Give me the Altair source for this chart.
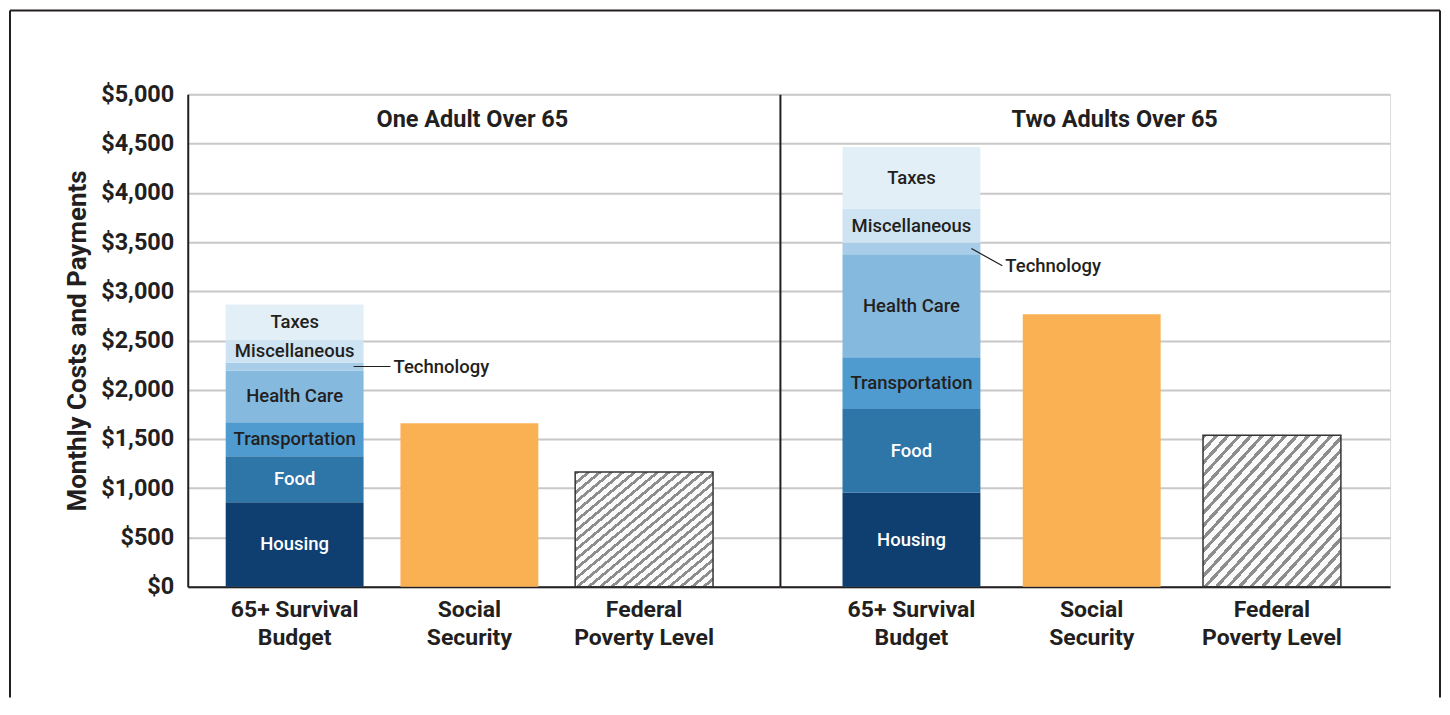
import altair as alt
import pandas as pd

# ---------------- data ----------------
groups = ["One Adult Over 65", "Two Adults Over 65"]
bars = ["65+ Survival Budget", "Social Security", "Federal Poverty Level"]
bar_label_lines = [["65+ Survival", "Budget"], ["Social", "Security"], ["Federal", "Poverty Level"]]
components = ["Housing", "Food", "Transportation", "Health Care", "Technology", "Miscellaneous", "Taxes"]
budget_one_adult = [858, 467, 344, 526, 82, 233, 355]
budget_two_adults = [953, 851, 527, 1044, 118, 345, 628]
social_security = [1659, 2767]
federal_poverty_level = [1165, 1537]
y_ticks = [0, 500, 1000, 1500, 2000, 2500, 3000, 3500, 4000, 4500, 5000]
budgets = [budget_one_adult, budget_two_adults]

# ---------------- style ----------------
FONT = "Roboto"
DARK = "#231f20"
component_colors = ["#0f3f70", "#2e75a8", "#4f9bd0", "#85b9de", "#a7cde8", "#cfe4f2", "#e3eff6"]
white_text_components = ["Housing", "Food"]
ORANGE = "#f9b154"
GRID = "#c8c8c8"
SEG_FONT = 18.5

# diagonal hatch emulated with a hard-stop linear gradient
K = 24
stops = []
for i in range(K):
    a = i / K
    b = (i + 0.38) / K
    c = (i + 1) / K
    stops += [
        alt.GradientStop(offset=a, color="#8d8d8d"),
        alt.GradientStop(offset=b, color="#8d8d8d"),
        alt.GradientStop(offset=b, color="#fbfbfb"),
        alt.GradientStop(offset=c, color="#fbfbfb"),
    ]
hatch = alt.LinearGradient(gradient="linear", stops=stops, x1=0, y1=0, x2=1, y2=1)

label_expr = " : ".join(
    f"datum.label == '{b}' ? {lines!r}" for b, lines in zip(bars, bar_label_lines)
) + " : datum.label"

PANEL_H = 493
panel_specs = [
    dict(width=593, pin=0.211, pout=0.30, align=0.362, title_dx=3, tech_drop=0,
         lead_in=-10, lead_out=27, text_dx=30, show_y=True),
    dict(width=611, pin=0.235, pout=0.31, align=0.56, title_dx=23, tech_drop=175,
         lead_in=-9, lead_out=22, text_dx=25, show_y=False),
]


def make_panel(gi):
    spec = panel_specs[gi]
    vals = budgets[gi]
    xscale = alt.Scale(domain=bars, paddingInner=spec["pin"], paddingOuter=spec["pout"], align=spec["align"])
    yscale = alt.Scale(domain=[0, 5000], nice=False)
    xaxis = alt.Axis(
        title=None, labelExpr=label_expr, labelAngle=0, ticks=False, labelPadding=12,
        labelFontSize=23, labelFontWeight="bold", labelLineHeight=28, labelColor=DARK,
        domainColor=DARK, domainWidth=2, grid=False, labelBaseline="top",
    )
    if spec["show_y"]:
        yaxis = alt.Axis(
            title="Monthly Costs and Payments", values=y_ticks, format="$,.0f", ticks=False,
            labelPadding=14, labelFontSize=23.5, labelFontWeight="bold", labelColor=DARK,
            titleFontSize=26, titleFontWeight="bold", titleColor=DARK, titlePadding=10,
            domainColor=DARK, domainWidth=2, grid=True, gridColor=GRID, gridWidth=2,
        )
    else:
        yaxis = alt.Axis(
            title=None, values=y_ticks, labels=False, ticks=False,
            domainColor=DARK, domainWidth=2, grid=True, gridColor=GRID, gridWidth=2,
        )

    def X(field):
        return alt.X(field, type="nominal", scale=xscale, axis=xaxis, sort=bars)

    def Y(field, **kw):
        return alt.Y(field, type="quantitative", scale=yscale, axis=yaxis, **kw)

    stack_df = pd.DataFrame({
        "bar": [bars[0]] * len(components),
        "component": components,
        "value": vals,
        "order": list(range(len(components))),
    })

    stacked = alt.Chart(stack_df).mark_bar().encode(
        x=X("bar"),
        y=Y("value", stack="zero"),
        color=alt.Color("component:N", scale=alt.Scale(domain=components, range=component_colors), legend=None),
        order=alt.Order("order:Q", sort="ascending"),
    )

    seg_labels = alt.Chart(stack_df).transform_stack(
        stack="value", groupby=["bar"], as_=["v0", "v1"], sort=[alt.SortField("order", order="ascending")]
    ).transform_calculate(
        mid="(datum.v0 + datum.v1) / 2"
    ).transform_filter(
        "datum.component != 'Technology'"
    ).mark_text(font=FONT, fontSize=SEG_FONT, fontWeight=500, baseline="middle", align="center").encode(
        x=X("bar"),
        y=Y("mid"),
        text="component:N",
        color=alt.condition(
            "indexof(" + repr(white_text_components) + ", datum.component) >= 0",
            alt.value("white"), alt.value(DARK)),
    )

    ss = alt.Chart(pd.DataFrame({"bar": [bars[1]], "value": [social_security[gi]]})).mark_bar(
        color=ORANGE
    ).encode(x=X("bar"), y=Y("value"))

    fpl = alt.Chart(pd.DataFrame({"bar": [bars[2]], "value": [federal_poverty_level[gi]]})).mark_bar(
        fill=hatch, stroke="#333333", strokeWidth=1.5
    ).encode(x=X("bar"), y=Y("value"))

    header = alt.Chart(pd.DataFrame({"t": [groups[gi]]})).mark_text(
        font=FONT, fontSize=23.5, fontWeight="bold", color=DARK, dx=spec["title_dx"], baseline="middle"
    ).encode(
        x=alt.X(datum=bars[1], type="nominal", scale=xscale, axis=xaxis),
        y=alt.Y(datum=4735, type="quantitative", scale=yscale, axis=yaxis),
        text="t:N",
    )

    tech_mid = sum(vals[:4]) + vals[4] / 2
    tech_end = tech_mid - spec["tech_drop"]
    one = pd.DataFrame({"t": ["Technology"]})
    leader = alt.Chart(one).mark_rule(
        color=DARK, strokeWidth=1.2, xOffset=spec["lead_in"], x2Offset=spec["lead_out"]
    ).encode(
        x=alt.X(datum=bars[0], type="nominal", scale=xscale, axis=xaxis, bandPosition=1),
        x2=alt.X2Datum(datum=bars[0], bandPosition=1),
        y=alt.Y(datum=tech_mid, type="quantitative", scale=yscale, axis=yaxis),
        y2=alt.Y2Datum(datum=tech_end),
    )
    tech_text = alt.Chart(one).mark_text(
        font=FONT, fontSize=SEG_FONT, fontWeight=500, color=DARK, align="left", baseline="middle",
        dx=spec["text_dx"]
    ).encode(
        x=alt.X(datum=bars[0], type="nominal", scale=xscale, axis=xaxis, bandPosition=1),
        y=alt.Y(datum=tech_end, type="quantitative", scale=yscale, axis=yaxis),
        text="t:N",
    )

    layers = [stacked, ss, fpl, seg_labels, header, leader, tech_text]

    if gi == 0:
        # outer frame (decoration, not data)
        f = pd.DataFrame({"a": [0]})
        left_edge = alt.Chart(f).mark_rule(color=DARK, strokeWidth=2).encode(
            x=alt.value(-178), y=alt.value(-84), y2=alt.value(604))
        top_edge = alt.Chart(f).mark_rule(color=DARK, strokeWidth=2).encode(
            x=alt.value(-178), x2=alt.value(1254), y=alt.value(-84))
        right_edge = alt.Chart(f).mark_rule(color=DARK, strokeWidth=2).encode(
            x=alt.value(1254), y=alt.value(-84), y2=alt.value(604))
        layers += [left_edge, top_edge, right_edge]

    return alt.layer(*layers).properties(width=spec["width"], height=PANEL_H)


chart = alt.hconcat(make_panel(0), make_panel(1), spacing=0, bounds="flush").properties(
    padding=0, background="white"
).configure_view(stroke=None).configure(font=FONT)

chart.save("out.html", embed_options={"renderer": "svg", "actions": False})
